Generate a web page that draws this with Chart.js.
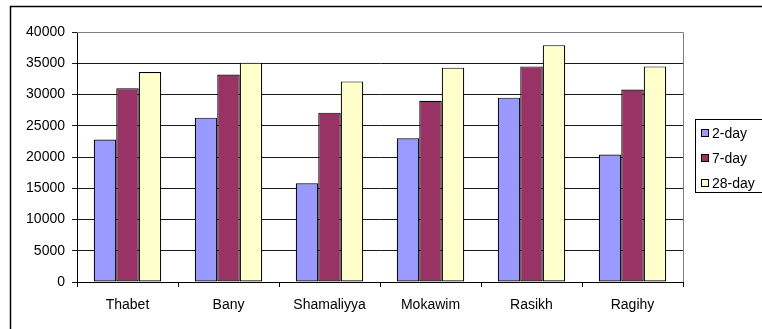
<!DOCTYPE html>
<html>
<head>
<meta charset="utf-8">
<script src="https://cdn.jsdelivr.net/npm/chart.js@4"></script>
<style>
  html, body { margin: 0; padding: 0; background: #fff; }
  #wrap { width: 762px; height: 329px; }
</style>
</head>
<body>
<div id="wrap"><canvas id="c" width="762" height="329"></canvas></div>
<script>
// Compressive strength by mix and curing age
const categories = ['Thabet', 'Bany', 'Shamaliyya', 'Mokawim', 'Rasikh', 'Ragihy'];
const seriesNames = ['2-day', '7-day', '28-day'];
const day2 = [22800, 26300, 15800, 23000, 29500, 20400];
const day7 = [31000, 33200, 27100, 29000, 34500, 30800];
const day28 = [33600, 35100, 32100, 34300, 37900, 34500];
const yTicks = [0, 5000, 10000, 15000, 20000, 25000, 30000, 35000, 40000];

const fills = ['#9999FF', '#993366', '#FFFFCC'];
const FONT = '"Liberation Sans", Arial, sans-serif';

// Outer frame, grey plot-area edges and the boxed legend
const decor = {
  id: 'decor',
  beforeDraw(chart) {
    const ctx = chart.ctx;
    ctx.save();
    ctx.fillStyle = '#fff';
    ctx.fillRect(0, 0, chart.width, chart.height);
    ctx.strokeStyle = '#000';
    ctx.lineWidth = 1.5;
    ctx.strokeRect(10.5, 6.5, chart.width + 20, chart.height + 20);
    ctx.restore();
  },
  afterDraw(chart) {
    const ctx = chart.ctx;
    const a = chart.chartArea;
    ctx.save();
    ctx.strokeStyle = '#808080';
    ctx.lineWidth = 1;
    ctx.beginPath();
    ctx.moveTo(a.left, a.top + 0.5);
    ctx.lineTo(a.right + 0.5, a.top + 0.5);
    ctx.lineTo(a.right + 0.5, a.bottom);
    ctx.stroke();

    // legend
    const lx = 695, ly = 119, lw = 80, lh = 73;
    ctx.strokeStyle = '#000';
    ctx.strokeRect(lx + 0.5, ly + 0.5, lw, lh);
    ctx.font = '14px ' + FONT;
    ctx.textBaseline = 'middle';
    ctx.textAlign = 'left';
    chart.data.datasets.forEach((ds, i) => {
      const cy = ly + 14 + i * 25;
      ctx.fillStyle = ds.backgroundColor;
      ctx.fillRect(701.5, cy - 3.5, 7, 7);
      ctx.strokeStyle = '#000';
      ctx.strokeRect(701.5, cy - 3.5, 7, 7);
      ctx.fillStyle = '#000';
      ctx.fillText(ds.label, 712, cy + 1);
    });
    ctx.restore();
  }
};

new Chart(document.getElementById('c'), {
  type: 'bar',
  data: {
    labels: categories,
    datasets: [
      { label: seriesNames[0], data: day2, backgroundColor: fills[0] },
      { label: seriesNames[1], data: day7, backgroundColor: fills[1] },
      { label: seriesNames[2], data: day28, backgroundColor: fills[2] }
    ].map(d => Object.assign(d, {
      borderColor: '#000', borderWidth: 1.2, borderSkipped: false,
      categoryPercentage: 0.668, barPercentage: 1
    }))
  },
  options: {
    responsive: false,
    animation: false,
    devicePixelRatio: 1,
    layout: { padding: { left: 0, top: 32, right: 79, bottom: 0 } },
    plugins: { legend: { display: false }, tooltip: { enabled: false } },
    scales: {
      x: {
        afterFit(s) { s.height = 47; },
        grid: { offset: true, drawOnChartArea: false, drawTicks: true, tickLength: 5, color: '#000' },
        border: { color: '#000', width: 1 },
        ticks: { color: '#000', font: { family: FONT, size: 14 }, padding: 10, maxRotation: 0 }
      },
      y: {
        min: 0, max: 40000,
        afterFit(s) { s.width = 77; },
        afterBuildTicks(s) { s.ticks = yTicks.map(v => ({ value: v })); },
        grid: { color: '#1a1a1a', tickLength: 5, drawTicks: true },
        border: { color: '#000', width: 1 },
        ticks: {
          color: '#000', font: { family: FONT, size: 14 }, padding: 7,
          callback: v => String(v)
        }
      }
    }
  },
  plugins: [decor]
});
</script>
</body>
</html>
